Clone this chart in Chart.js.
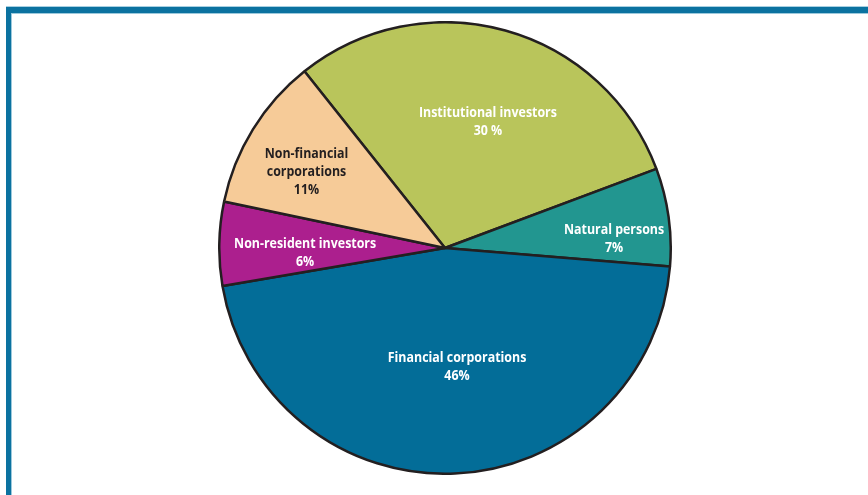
<!DOCTYPE html>
<html>
<head>
<meta charset="utf-8">
<script src="https://cdn.jsdelivr.net/npm/chart.js@4/dist/chart.umd.min.js"></script>
<style>
  html, body { margin: 0; padding: 0; background: #fff; }
  body { width: 868px; height: 495px; position: relative; overflow: hidden; }
  .frame {
    position: absolute; left: 6px; top: 7px; width: 900px; height: 520px;
    border-top: 6px solid #0b72a0; border-left: 5px solid #0b72a0;
    box-shadow: inset 1px 1px 0 #9cc9dc;
  }
  .frame::before {
    content: ""; position: absolute; left: -5px; top: -7px; right: 0; height: 1px; background: #a8d0e2;
  }
  #wrap { position: absolute; left: 218px; top: 21px; width: 454px; height: 454px; }
</style>
</head>
<body>
<div class="frame"></div>
<div id="wrap"><canvas id="holders-chart"></canvas></div>
<script>
const categories = [
  ["Institutional investors"],
  ["Natural persons"],
  ["Financial corporations"],
  ["Non-resident investors"],
  ["Non-financial", "corporations"],
];
const shares = [30, 7, 46, 6, 11];
const shareLabels = ["30 %", "7%", "46%", "6%", "11%"];
const sliceColors = ["#b9c55b", "#229690", "#036d98", "#ac1f8e", "#f6cb98"];
const labelColors = ["#ffffff", "#ffffff", "#ffffff", "#ffffff", "#231f20"];
// label placement per slice: share of radius, and turn from the slice middle (deg)
const labelRadius = [0.59, 0.75, 0.527, 0.62, 0.70];
const labelTurn = [3.3, 4.6, -3.3, -3, -2.9];

// Slice labels, drawn inside each arc with a narrowed bold face
const sliceLabels = {
  id: "sliceLabels",
  afterDatasetsDraw(chart) {
    const ctx = chart.ctx;
    const meta = chart.getDatasetMeta(0);
    ctx.save();
    ctx.font = "bold 15px 'Open Sans', sans-serif";
    ctx.textAlign = "center";
    ctx.textBaseline = "middle";
    const squeeze = 138 / ctx.measureText("Institutional investors").width;
    meta.data.forEach((arc, i) => {
      const { x, y, startAngle, endAngle, outerRadius } = arc.getProps(
        ["x", "y", "startAngle", "endAngle", "outerRadius"], true
      );
      const mid = (startAngle + endAngle) / 2 + (labelTurn[i] * Math.PI) / 180;
      const r = outerRadius * labelRadius[i];
      const cx = x + Math.cos(mid) * r;
      const cy = y + Math.sin(mid) * r;
      const lines = categories[i].concat([shareLabels[i]]);
      const lh = 18;
      const top = cy - ((lines.length - 1) * lh) / 2;
      ctx.fillStyle = labelColors[i];
      lines.forEach((line, j) => {
        ctx.save();
        ctx.translate(cx, top + j * lh);
        ctx.scale(squeeze, 1);
        ctx.fillText(line, 0, 0);
        ctx.restore();
      });
    });
    ctx.restore();
  },
};

new Chart(document.querySelector("#holders-chart").getContext("2d"), {
  type: "pie",
  data: {
    labels: categories.map((c) => c.join(" ")),
    datasets: [{
      data: shares,
      backgroundColor: sliceColors,
      borderColor: "#231f20",
      borderWidth: 2.5,
      borderAlign: "center",
    }],
  },
  options: {
    responsive: true,
    maintainAspectRatio: false,
    animation: false,
    rotation: 321.5,
    layout: { padding: 0 },
    plugins: {
      legend: { display: false },
      tooltip: { enabled: false },
    },
  },
  plugins: [sliceLabels],
});
</script>
</body>
</html>
